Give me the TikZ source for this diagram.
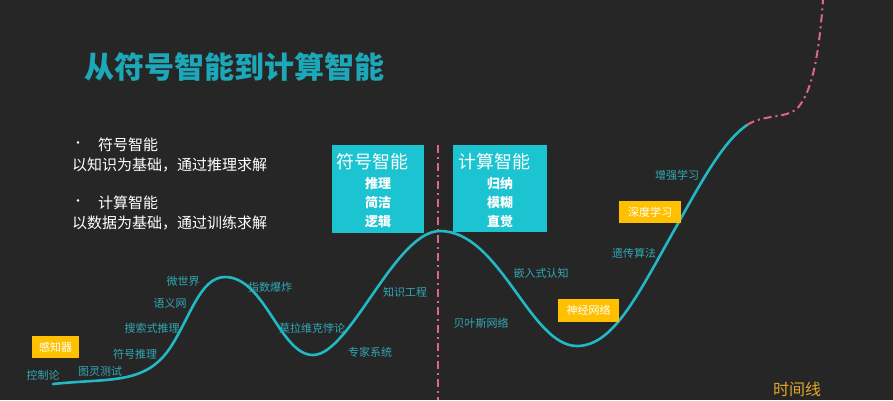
\documentclass[tikz,border=0pt]{standalone}
\usepackage{fontspec}
\setmainfont{Noto Sans CJK SC}
\newfontfamily\cjk{Noto Sans CJK SC}
\definecolor{bg}{HTML}{262626}
\definecolor{curve}{HTML}{22B8C4}
\definecolor{boxc}{HTML}{1BC4D0}
\definecolor{lab}{HTML}{32A8B4}
\definecolor{ttl}{HTML}{1CA8B8}
\definecolor{yel}{HTML}{FFC000}
\definecolor{pink}{HTML}{E0648C}
\definecolor{tl}{HTML}{E0A828}
\tikzset{
  lbl/.style={text=lab, font=\fontsize{11}{12}\selectfont, inner sep=0pt},
  ybox/.style={fill=yel, text=white, font=\fontsize{11}{12}\selectfont, inner sep=0pt, minimum height=22pt},
  cbox/.style={fill=boxc, text=white, inner sep=0pt, anchor=north west},
  btxt/.style={text=white, font=\fontsize{15}{16}\selectfont, inner sep=0pt, anchor=west},
  pinkline/.style={pink, line width=2pt, dash pattern=on 8pt off 4pt on 2pt off 4pt},
}
\begin{document}
\begin{tikzpicture}[x=1pt,y=-1pt]
\clip (0,0) rectangle (893,400);
\fill[bg] (0,0) rectangle (893,400);
\useasboundingbox (0,0) rectangle (893,400);

% title
\node[text=ttl, font=\fontsize{30}{32}\selectfont\bfseries, anchor=west, inner sep=0pt] (title) at (84,67) {从符号智能到计算智能};

% bullets
\node[btxt, font=\fontsize{12}{13}\selectfont] (b1) at (72,145) {•};
\node[btxt] (b1t) at (98,145) {符号智能};
\node[btxt] (b1d) at (72,165) {以知识为基础，通过推理求解};
\node[btxt, font=\fontsize{12}{13}\selectfont] (b2) at (72,203) {•};
\node[btxt] (b2t) at (98,203) {计算智能};
\node[btxt] (b2d) at (72,223) {以数据为基础，通过训练求解};

% boxes
\node[cbox, minimum width=92pt, minimum height=88pt] (sbox) at (332,145) {};
\node[text=white, font=\fontsize{18}{20}\selectfont, inner sep=0pt] (st) at (372,162) {符号智能};
\node[text=white, font=\fontsize{13}{14}\selectfont\bfseries, inner sep=0pt] (s1) at (378,184) {推理};
\node[text=white, font=\fontsize{13}{14}\selectfont\bfseries, inner sep=0pt] (s2) at (378,203) {简洁};
\node[text=white, font=\fontsize{13}{14}\selectfont\bfseries, inner sep=0pt] (s3) at (378,222) {逻辑};

\node[cbox, minimum width=94pt, minimum height=87pt] (cbx) at (453,145) {};
\node[text=white, font=\fontsize{18}{20}\selectfont, inner sep=0pt] (ct) at (494,162) {计算智能};
\node[text=white, font=\fontsize{13}{14}\selectfont\bfseries, inner sep=0pt] (c1) at (500,184) {归纳};
\node[text=white, font=\fontsize{13}{14}\selectfont\bfseries, inner sep=0pt] (c2) at (500,203) {模糊};
\node[text=white, font=\fontsize{13}{14}\selectfont\bfseries, inner sep=0pt] (c3) at (500,222) {直觉};

% divider
\coordinate (dtop) at (438,145);
\coordinate (dbot) at (438,400);
\draw[pinkline, line width=1.6pt] (dtop) -- (dbot);

% main curve
\coordinate (p0) at (53,384);
\coordinate (p1) at (170,348);
\coordinate (pk1) at (225,277);
\coordinate (mn1) at (313,355);
\coordinate (pk2) at (440,231);
\coordinate (mn2) at (577,346);
\coordinate (p2) at (680,220);
\coordinate (p3) at (747,125);
\coordinate (p4) at (800,105);
\coordinate (p5) at (823,0);
\draw[curve, line width=2.6pt, line cap=round]
  (p0) .. controls (110,378) and (145,385) .. (p1)
  .. controls (190,318) and (200,277) .. (pk1)
  .. controls (265,277) and (280,355) .. (mn1)
  .. controls (350,355) and (395,231) .. (pk2)
  .. controls (500,231) and (530,346) .. (mn2)
  .. controls (615,346) and (640,290) .. (p2)
  .. controls (705,175) and (725,140) .. (p3);
\draw[pinkline] (p3) .. controls (765,113) and (790,120) .. (p4)
  .. controls (815,85) and (820,40) .. (p5);

% labels
\node[lbl] (l1) at (43,375) {控制论};
\node[ybox, minimum width=47pt] (l2) at (55.5,347) {感知器};
\node[lbl] (l3) at (100,371) {图灵测试};
\node[lbl] (l4) at (135,354) {符号推理};
\node[lbl] (l5) at (152,328) {搜索式推理};
\node[lbl] (l6) at (170,303) {语义网};
\node[lbl] (l7) at (183,281) {微世界};
\node[lbl] (l8) at (270,287) {指数爆炸};
\node[lbl] (l9) at (312,328) {莫拉维克悖论};
\node[lbl] (l10) at (370,352) {专家系统};
\node[lbl] (l11) at (405,292) {知识工程};
\node[lbl] (l12) at (481,323) {贝叶斯网络};
\node[lbl] (l13) at (541,273) {嵌入式认知};
\node[ybox, minimum width=61pt, minimum height=23pt] (l14) at (588.5,310.5) {神经网络};
\node[lbl] (l15) at (634,253) {遗传算法};
\node[ybox, minimum width=62pt] (l16) at (650,212) {深度学习};
\node[lbl] (l17) at (677,175) {增强学习};
\node[text=tl, font=\fontsize{16}{18}\selectfont, inner sep=0pt] (tl) at (797,389) {时间线};
\end{tikzpicture}
\end{document}
